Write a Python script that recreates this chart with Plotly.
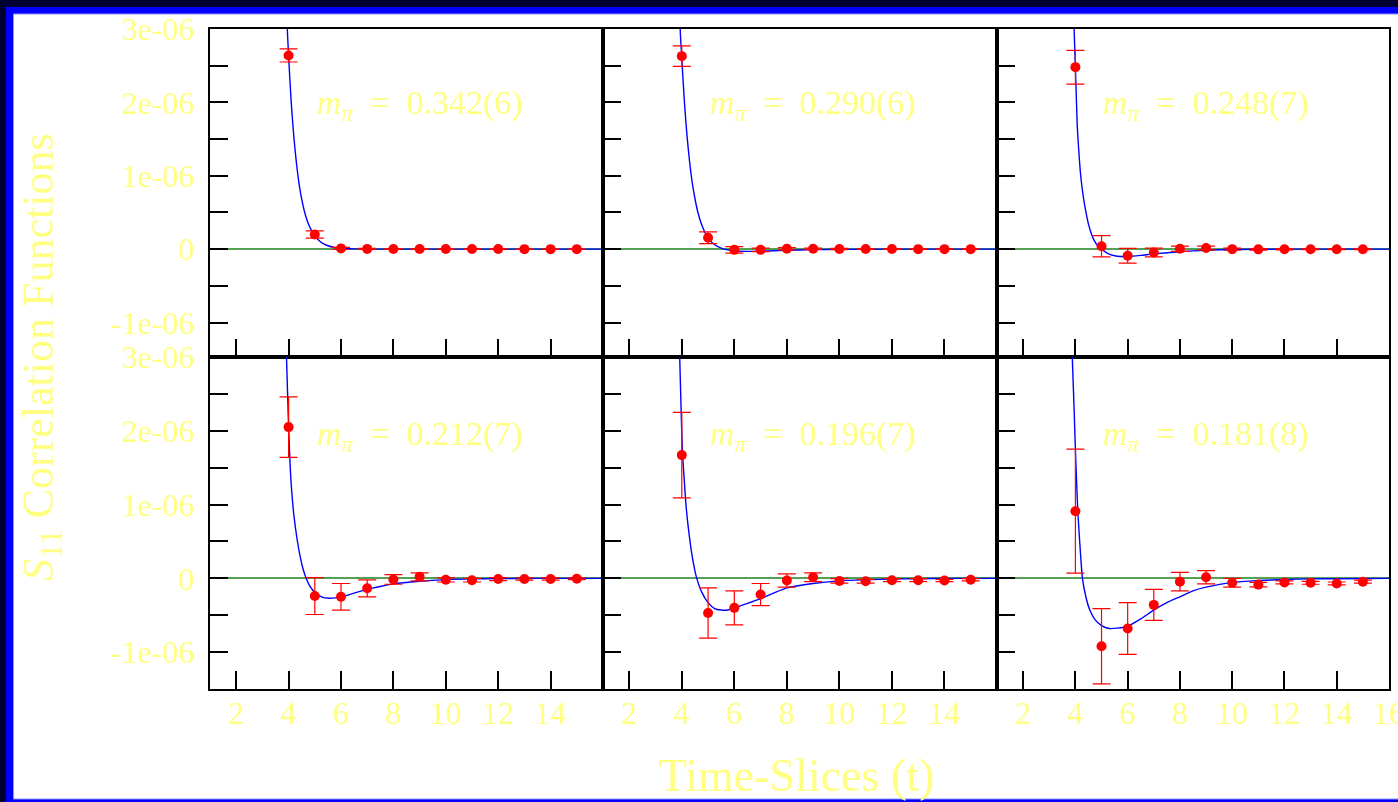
import plotly.graph_objects as go

# ---------------- data ----------------
t_slices = [4, 5, 6, 7, 8, 9, 10, 11, 12, 13, 14, 15]
mpi_labels = ["0.342(6)", "0.290(6)", "0.248(7)", "0.212(7)", "0.196(7)", "0.181(8)"]

corr_p1 = [2.64e-6, 0.20e-6, 0.01e-6, 0.003e-6, 0.002e-6, 0.002e-6, 0.001e-6, 0.001e-6, 0.001e-6, 0.0, 0.0, 0.0]
err_p1 = [0.09e-6, 0.05e-6, 0.015e-6, 0.008e-6, 0.006e-6, 0.005e-6, 0.004e-6, 0.003e-6, 0.003e-6, 0.002e-6, 0.002e-6, 0.002e-6]

corr_p2 = [2.63e-6, 0.155e-6, -0.01e-6, -0.01e-6, 0.005e-6, 0.005e-6, 0.002e-6, 0.001e-6, 0.001e-6, 0.0, 0.0, 0.0]
err_p2 = [0.14e-6, 0.08e-6, 0.045e-6, 0.025e-6, 0.015e-6, 0.01e-6, 0.008e-6, 0.006e-6, 0.005e-6, 0.004e-6, 0.003e-6, 0.003e-6]

corr_p3 = [2.48e-6, 0.04e-6, -0.09e-6, -0.045e-6, 0.005e-6, 0.015e-6, 0.0, -0.003e-6, -0.002e-6, -0.002e-6, -0.002e-6, -0.001e-6]
err_p3 = [0.23e-6, 0.145e-6, 0.10e-6, 0.06e-6, 0.035e-6, 0.025e-6, 0.015e-6, 0.01e-6, 0.008e-6, 0.006e-6, 0.005e-6, 0.005e-6]

corr_p4 = [2.05e-6, -0.24e-6, -0.25e-6, -0.135e-6, -0.015e-6, 0.02e-6, -0.02e-6, -0.025e-6, -0.01e-6, -0.01e-6, -0.01e-6, -0.005e-6]
err_p4 = [0.41e-6, 0.25e-6, 0.18e-6, 0.115e-6, 0.065e-6, 0.055e-6, 0.03e-6, 0.025e-6, 0.02e-6, 0.015e-6, 0.015e-6, 0.012e-6]

corr_p5 = [1.67e-6, -0.47e-6, -0.40e-6, -0.22e-6, -0.03e-6, 0.015e-6, -0.035e-6, -0.04e-6, -0.025e-6, -0.025e-6, -0.03e-6, -0.02e-6]
err_p5 = [0.58e-6, 0.34e-6, 0.23e-6, 0.15e-6, 0.09e-6, 0.06e-6, 0.03e-6, 0.025e-6, 0.02e-6, 0.02e-6, 0.015e-6, 0.015e-6]

corr_p6 = [0.91e-6, -0.92e-6, -0.68e-6, -0.36e-6, -0.045e-6, 0.015e-6, -0.06e-6, -0.085e-6, -0.055e-6, -0.06e-6, -0.07e-6, -0.045e-6]
err_p6 = [0.84e-6, 0.51e-6, 0.35e-6, 0.21e-6, 0.125e-6, 0.09e-6, 0.06e-6, 0.03e-6, 0.02e-6, 0.02e-6, 0.02e-6, 0.02e-6]

# fitted curves
fit_t_p1 = [3.9, 3.95, 4.0, 4.1, 4.2, 4.3, 4.4, 4.5, 4.6, 4.75, 5.0, 5.25, 5.5, 5.75, 6.0, 6.5, 7, 8, 10, 12, 14, 16]
fit_y_p1 = [3.43e-6, 3.0e-6, 2.63e-6, 2.0e-6, 1.53e-6, 1.17e-6, 0.89e-6, 0.68e-6, 0.52e-6, 0.35e-6, 0.18e-6, 0.09e-6,
            0.046e-6, 0.023e-6, 0.012e-6, 0.003e-6, 0.001e-6, 0.0, 0.0, 0.0, 0.0, 0.0]

fit_t_p2 = [3.9, 3.95, 4.0, 4.1, 4.2, 4.3, 4.4, 4.5, 4.6, 4.75, 5.0, 5.25, 5.5, 5.75, 6.0, 6.5, 7, 7.5, 8, 9, 10, 12, 14, 16]
fit_y_p2 = [3.33e-6, 2.9e-6, 2.6e-6, 2.0e-6, 1.54e-6, 1.18e-6, 0.9e-6, 0.69e-6, 0.52e-6, 0.34e-6, 0.15e-6, 0.06e-6,
            0.015e-6, -0.01e-6, -0.025e-6, -0.03e-6, -0.028e-6, -0.022e-6, -0.016e-6, -0.007e-6, -0.003e-6, 0.0, 0.0, 0.0]

fit_t_p3 = [3.9, 3.95, 4.0, 4.07, 4.1, 4.2, 4.3, 4.4, 4.5, 4.6, 4.68, 4.8, 5.0, 5.25, 5.5, 5.75, 6.0, 6.5, 7, 8, 9, 10, 12, 14, 16]
fit_y_p3 = [3.5e-6, 3.0e-6, 2.48e-6, 1.69e-6, 1.5e-6, 1.01e-6, 0.72e-6, 0.51e-6, 0.34e-6, 0.22e-6, 0.146e-6, 0.07e-6,
            0.0, -0.06e-6, -0.09e-6, -0.1e-6, -0.1e-6, -0.085e-6, -0.065e-6, -0.035e-6, -0.015e-6, -0.005e-6, 0.0, 0.0, 0.0]

fit_t_p4 = [3.88, 3.92, 4.0, 4.05, 4.11, 4.2, 4.32, 4.45, 4.55, 4.67, 4.8, 5.0, 5.25, 5.55, 5.8, 6.0, 6.5, 7, 7.5, 8, 9, 10, 11, 12, 13, 14, 16]
fit_y_p4 = [3.4e-6, 3.0e-6, 2.05e-6, 1.6e-6, 1.22e-6, 0.86e-6, 0.54e-6, 0.28e-6, 0.13e-6, 0.0, -0.1e-6, -0.19e-6,
            -0.25e-6, -0.27e-6, -0.265e-6, -0.255e-6, -0.2e-6, -0.15e-6, -0.11e-6, -0.075e-6, -0.04e-6, -0.018e-6,
            -0.008e-6, -0.004e-6, -0.002e-6, 0.0, 0.0]

fit_t_p5 = [3.88, 3.92, 4.0, 4.03, 4.1, 4.16, 4.25, 4.39, 4.5, 4.57, 4.75, 5.0, 5.25, 5.5, 5.75, 6.0, 6.5, 7, 7.5, 8, 9, 10, 11, 12, 13, 14, 16]
fit_y_p5 = [3.5e-6, 3.0e-6, 1.95e-6, 1.67e-6, 1.3e-6, 0.99e-6, 0.68e-6, 0.31e-6, 0.1e-6, 0.0, -0.18e-6, -0.33e-6,
            -0.41e-6, -0.43e-6, -0.43e-6, -0.40e-6, -0.34e-6, -0.275e-6, -0.2e-6, -0.13e-6, -0.07e-6, -0.035e-6,
            -0.02e-6, -0.01e-6, -0.005e-6, 0.0, 0.0]

fit_t_p6 = [3.82, 3.88, 3.95, 4.0, 4.09, 4.2, 4.27, 4.4, 4.53, 4.75, 5.0, 5.3, 5.6, 6.0, 6.5, 7.0, 7.5, 8, 8.5, 9, 10, 11, 12, 13, 14, 16]
fit_y_p6 = [3.6e-6, 3.0e-6, 2.3e-6, 1.75e-6, 0.92e-6, 0.31e-6, 0.0, -0.25e-6, -0.41e-6, -0.56e-6, -0.64e-6, -0.68e-6,
            -0.675e-6, -0.65e-6, -0.55e-6, -0.43e-6, -0.33e-6, -0.25e-6, -0.17e-6, -0.12e-6, -0.055e-6, -0.03e-6,
            -0.015e-6, -0.008e-6, -0.005e-6, 0.0]

x_tick_vals = [2, 4, 6, 8, 10, 12, 14]
x_tick_vals_last = [2, 4, 6, 8, 10, 12, 14, 16]
y_tick_vals = [-1.5e-6, -1.0e-6, -0.5e-6, 0.0, 0.5e-6, 1.0e-6, 1.5e-6, 2.0e-6, 2.5e-6, 3.0e-6]
y_tick_text = ["", "-1e-06", "", "0", "", "1e-06", "", "2e-06", "", "3e-06"]

# --------------- figure ----------------
W, H = 1398, 802
ML, MR, MT, MB = 210, 9, 29, 113
PW, PH = W - ML - MR, H - MT - MB

YELLOW = "#ffff80"
FONT = "Liberation Serif"
NB = "\u00a0"

corrs = [corr_p1, corr_p2, corr_p3, corr_p4, corr_p5, corr_p6]
errs = [err_p1, err_p2, err_p3, err_p4, err_p5, err_p6]
fits_t = [fit_t_p1, fit_t_p2, fit_t_p3, fit_t_p4, fit_t_p5, fit_t_p6]
fits_y = [fit_y_p1, fit_y_p2, fit_y_p3, fit_y_p4, fit_y_p5, fit_y_p6]

fig = go.Figure()

x_domains = [[0, 393 / PW], [393 / PW, 787 / PW], [787 / PW, 1]]
split = 1 - 328 / PH
y_domains = [[split, 1], [0, split]]
y_ranges = [[-1.47e-6, 3.0e-6], [-1.5e-6, 3.0e-6]]

annotations = []
for i in range(6):
    row, col = divmod(i, 3)
    n = i + 1
    xa = "x" if n == 1 else f"x{n}"
    ya = "y" if n == 1 else f"y{n}"
    fig.add_trace(go.Scatter(
        x=fits_t[i], y=fits_y[i], mode="lines", xaxis=xa, yaxis=ya,
        line=dict(color="#0000ff", width=1.4, shape="spline", smoothing=0.6),
        showlegend=False, hoverinfo="skip"))
    fig.add_trace(go.Scatter(
        x=t_slices, y=corrs[i], mode="markers", xaxis=xa, yaxis=ya,
        marker=dict(color="#ff0000", size=10),
        error_y=dict(type="data", array=errs[i], color="#ff0000", thickness=1.2, width=9),
        showlegend=False))

    xkey = "xaxis" if n == 1 else f"xaxis{n}"
    ykey = "yaxis" if n == 1 else f"yaxis{n}"
    fig.layout[xkey] = dict(
        domain=x_domains[col], anchor=ya, range=[1, 16], automargin=False,
        showline=True, mirror=True, linecolor="black", linewidth=2,
        ticks="inside", ticklen=18, tickwidth=2, tickcolor="black",
        tickmode="array", tickvals=x_tick_vals_last if col == 2 else x_tick_vals,
        showticklabels=(row == 1), ticklabelstandoff=-5, ticklabeloverflow="allow",
        tickfont=dict(family=FONT, size=32, color=YELLOW),
        showgrid=False, zeroline=False)
    fig.layout[ykey] = dict(
        domain=y_domains[row], anchor=xa, range=y_ranges[row], automargin=False,
        showline=True, mirror=True, linecolor="black", linewidth=2,
        ticks="inside", ticklen=18, tickwidth=2, tickcolor="black",
        tickmode="array", tickvals=y_tick_vals, ticktext=y_tick_text,
        showticklabels=(col == 0), ticklabelstandoff=7,
        tickfont=dict(family=FONT, size=32, color=YELLOW),
        showgrid=False, zeroline=True, zerolinecolor="#55a055", zerolinewidth=2)

    annotations.append(dict(
        x=9, y=1.97e-6 if row == 0 else 1.93e-6, xref=xa, yref=ya,
        text=f"<i>m</i><sub><i>π</i></sub>{NB} ={NB} {mpi_labels[i]}", showarrow=False,
        font=dict(family=FONT, size=34, color=YELLOW), xanchor="center", yanchor="middle"))


def px(xp):
    return (xp - ML) / PW


def py(yp):
    return 1 - (yp - MT) / PH


annotations.append(dict(
    x=px(797), y=py(775), xref="paper", yref="paper", text="Time-Slices (t)",
    showarrow=False, font=dict(family=FONT, size=46, color=YELLOW),
    xanchor="center", yanchor="middle"))
annotations.append(dict(
    x=px(41), y=py(357), xref="paper", yref="paper",
    text="<i>S</i><sub>11</sub> Correlation Functions", textangle=-90,
    showarrow=False, font=dict(family=FONT, size=44, color=YELLOW),
    xanchor="center", yanchor="middle"))

shapes = [
    dict(type="rect", xref="paper", yref="paper", layer="below",
         x0=px(6), x1=px(1430), y0=py(830), y1=py(7),
         fillcolor="#0000ff", line=dict(width=0)),
    dict(type="rect", xref="paper", yref="paper", layer="below",
         x0=px(13.5), x1=px(1420), y0=py(799), y1=py(14),
         fillcolor="#ffffff", line=dict(width=1, color="#8f8fff")),
]

fig.update_layout(
    width=W, height=H, autosize=False,
    margin=dict(l=ML, r=MR, t=MT, b=MB, pad=0, autoexpand=False),
    paper_bgcolor="#000033", plot_bgcolor="#ffffff",
    annotations=annotations, shapes=shapes, showlegend=False,
    font=dict(family=FONT, color=YELLOW),
)

fig.write_html(
    "out.html",
    config={"displayModeBar": False, "responsive": False},
    post_script="document.body.style.margin='0';document.body.style.overflow='hidden';"
                "document.body.style.background='#000033';",
)
